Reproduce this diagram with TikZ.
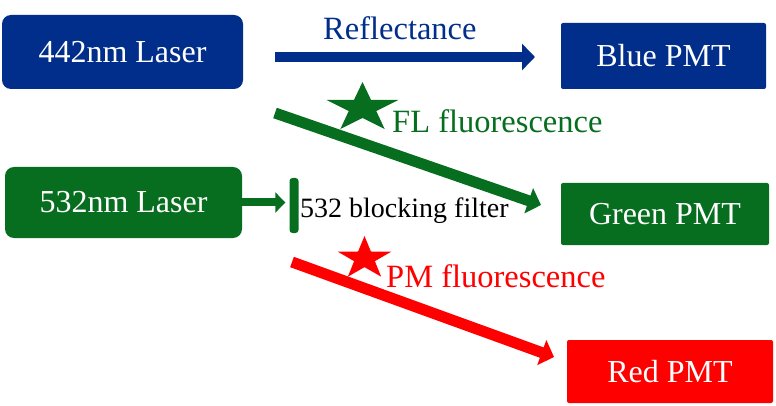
\documentclass[tikz,border=0pt]{standalone}
\usepackage{fontspec}
\setmainfont{Liberation Serif}
\usetikzlibrary{arrows.meta,shapes.geometric}
\definecolor{laserblue}{RGB}{0,46,138}
\definecolor{lasergreen}{RGB}{6,110,30}
\definecolor{laserred}{RGB}{255,0,0}
\newcommand{\boxtext}{\fontsize{32}{36}\selectfont}
\newcommand{\labeltext}{\fontsize{32.5}{36}\selectfont}
\newcommand{\beamwidth}{11pt}
\tikzset{
  laserbox/.style={rectangle, rounded corners=9pt, text=white, font=\boxtext, inner sep=0pt},
  pmtbox/.style={rectangle, rounded corners=2pt, text=white, font=\boxtext, inner sep=0pt},
  beam/.style={line width=\beamwidth, -{Triangle[length=13pt,width=26pt]}},
  flstar/.style={star, star points=5, star point ratio=2.6, inner sep=0pt},
}

\begin{document}
\begin{tikzpicture}[x=1pt,y=-1pt]
\useasboundingbox (0,0) rectangle (776,406);
%lasers
\node[laserbox, fill=laserblue, minimum width=241pt, minimum height=74pt] (laserA) at (122.5,52) {442nm Laser};
\node[laserbox, fill=lasergreen, minimum width=237pt, minimum height=71pt] (laserB) at (123.5,202.5) {532nm Laser};
%detectors
\node[pmtbox, fill=laserblue, minimum width=205pt, minimum height=66pt] (pmtB) at (663.5,56) {Blue PMT};
\node[pmtbox, fill=lasergreen, minimum width=208pt, minimum height=62pt] (pmtG) at (665,214) {Green PMT};
\node[pmtbox, fill=laserred, minimum width=206pt, minimum height=63pt] (pmtR) at (670,371.5) {Red PMT};
%filter
\node[rectangle, rounded corners=3pt, fill=lasergreen, minimum width=9pt, minimum height=55pt, inner sep=0pt] (filter) at (294,205.5) {};
\draw[lasergreen, line width=8pt, -{Triangle[length=10pt,width=20pt]}, shorten >=4pt] (laserB.east) -- (laserB.east -| filter.west);
%beam ends
\coordinate (reflA) at (275,57);
\coordinate (reflB) at (535,57);
\coordinate (flA) at (275,113);
\coordinate (flB) at (541,205);
\coordinate (pmA) at (292,262);
\coordinate (pmB) at (554,357);
%beams
\draw[beam, laserblue, line width=10pt] (reflA) -- (reflB);
\draw[beam, lasergreen] (flA) -- (flB);
\draw[beam, laserred] (pmA) -- (pmB);
%stars
\node[flstar, fill=lasergreen, minimum size=52pt, xscale=1.45] (starG) at (362.5,108) {};
\node[flstar, fill=laserred, minimum size=45pt, xscale=1.26] (starR) at (364.5,258.5) {};
%labels
\node[anchor=base west, inner sep=0pt, font=\labeltext, text=laserblue] (reflLabel) at (323,40) {Reflectance};
\node[anchor=base west, inner sep=0pt, font=\labeltext, text=lasergreen] (flLabel) at (392,133) {FL fluorescence};
\node[anchor=base west, inner sep=0pt, font=\fontsize{28}{32}\selectfont] (filterLabel) at (300,218) {532 blocking filter};
\node[anchor=base west, inner sep=0pt, font=\labeltext, text=laserred] (pmLabel) at (386,287) {PM fluorescence};
\end{tikzpicture}
\end{document}
